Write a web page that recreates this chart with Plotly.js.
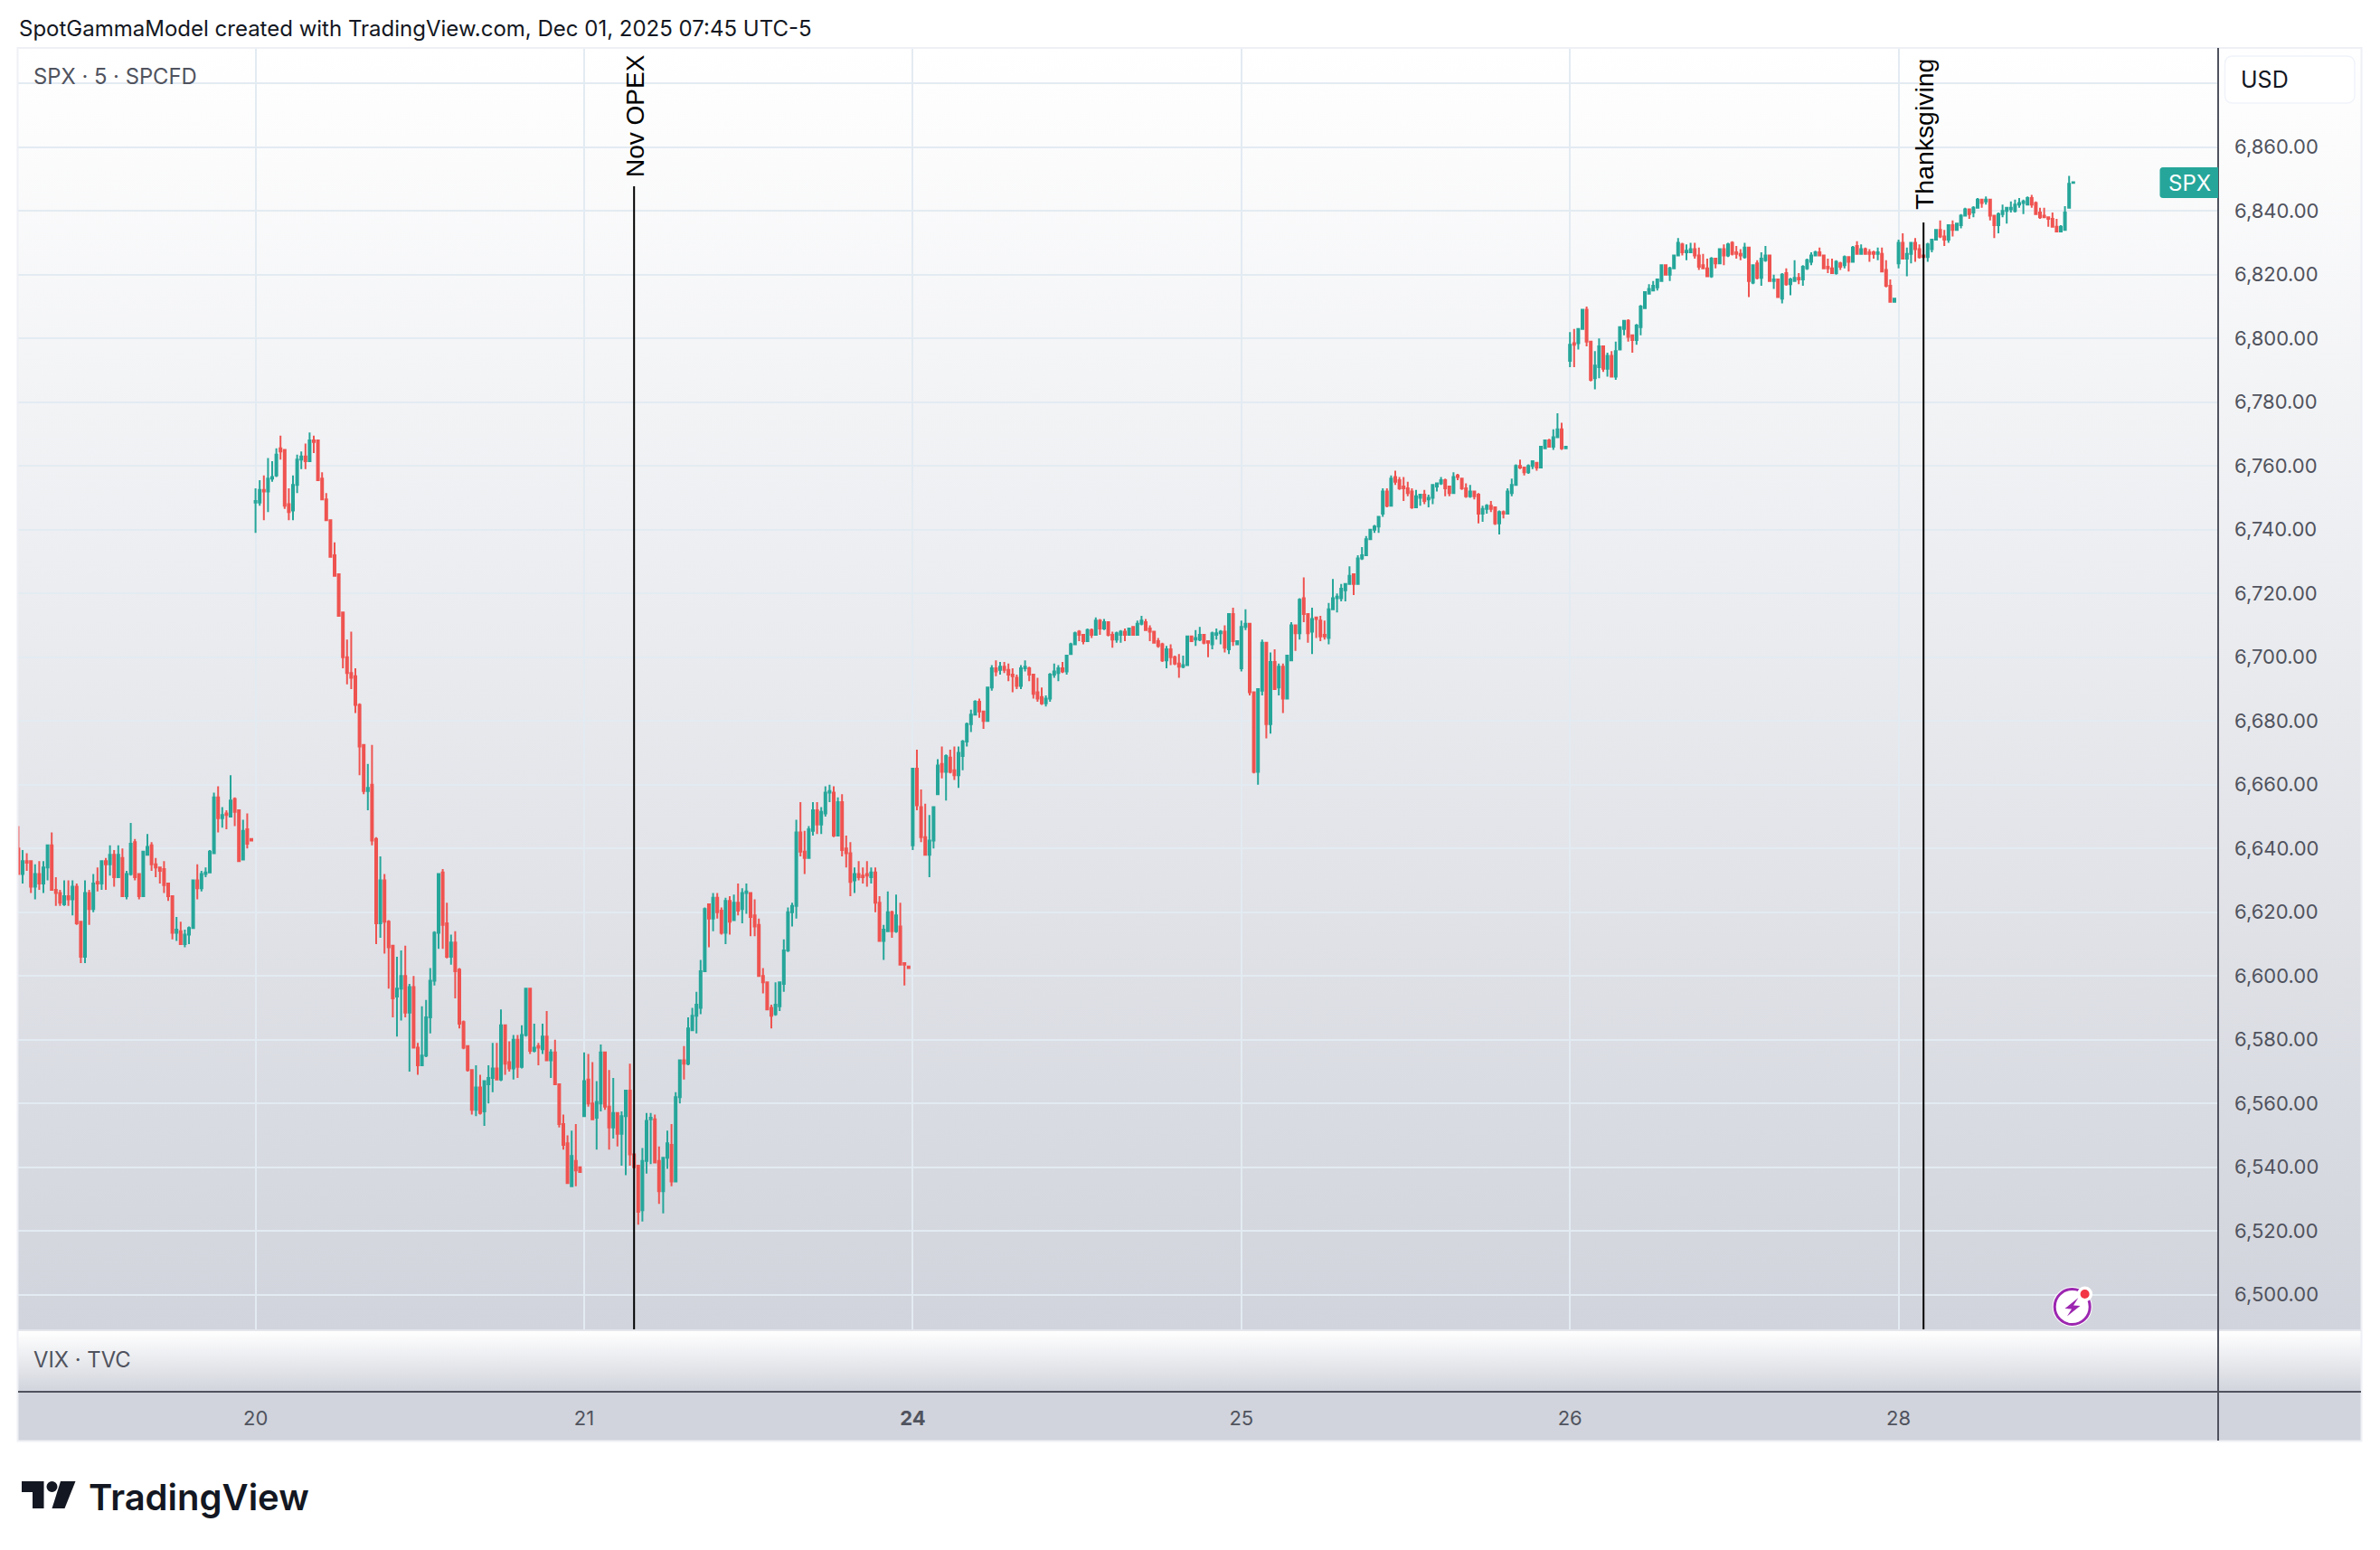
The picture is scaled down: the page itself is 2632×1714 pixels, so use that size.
<!DOCTYPE html>
<html>
<head>
<meta charset="utf-8">
<script src="https://cdn.plot.ly/plotly-3.0.1.min.js"></script>
<style>
html,body{margin:0;padding:0;background:#fff;width:2632px;height:1714px;overflow:hidden}
#wrap{position:relative;width:2632px;height:1714px}
.bg{position:absolute}
#chart{position:absolute;left:0;top:0;width:2632px;height:1714px}
</style>
</head>
<body>
<div id="wrap">
<div class="bg" style="left:20px;top:54px;width:2591px;height:1416px;background:linear-gradient(#ffffff,#d1d4dc)"></div>
<div class="bg" style="left:20px;top:1472px;width:2591px;height:67px;background:linear-gradient(#ffffff,#d1d4dc)"></div>
<div class="bg" style="left:20px;top:1539px;width:2591px;height:54px;background:#d1d4dc"></div>
<div id="chart"></div>
</div>
<script>
// rows: [open, close, high, low]
const nov19 = [
[6640,6632,6647,6632],[6632,6636,6639.5,6629],[6636,6635.5,6638.5,6633],[6636,6628,6636,6626],[6628,6632,6635,6624],[6632,6629,6636,6627],[6629,6634,6636,6626],[6634,6641,6641,6630],[6641,6627,6645,6627],[6627,6626,6631,6622],
[6626,6623,6627,6622],[6622.5,6625,6630,6622],[6625,6624,6630,6622],[6624,6628,6630,6619],[6628,6616.5,6629,6616],[6617,6606,6617,6604],[6606,6626,6630,6604],[6626,6621,6627,6616],[6621,6629,6632,6620],[6629.5,6629,6634,6626.5],
[6629,6636,6636,6627],[6636,6635,6637,6627],[6635,6638,6641,6631.5],[6638,6631,6639.5,6628],[6631,6638,6641,6631],[6637,6625,6640,6625],[6625,6632,6633,6624],[6632,6641.5,6648,6631.5],[6642,6631,6643,6630],[6632,6625,6632,6624],
[6625,6639,6639,6625],[6638,6640.5,6644.5,6638],[6641,6635,6642,6633],[6635,6634,6637,6631],[6634,6633,6634,6629],[6633.5,6628.5,6636,6626],[6629,6625,6629,6623.5],[6625,6613.5,6625,6611.5],[6613.5,6614.5,6618.5,6611],[6614,6610,6617,6610],
[6610,6613,6614.5,6609],[6613,6615,6615.5,6610],[6615,6630,6630,6615],[6630,6627.5,6635,6624],[6627.5,6632,6633,6626.5],[6632,6632.5,6634,6631],[6632.5,6639,6639.5,6632.5],[6638.5,6656,6657.5,6638.5],[6656,6649.5,6659.5,6645],[6649.5,6650.5,6653,6646.5],
[6651,6650.5,6652,6646],[6650,6655,6663,6650],[6655.5,6651.5,6656,6647],[6652,6636,6652,6636],[6636.5,6645.5,6649,6636.5],[6646,6641.5,6651,6640],[6643,6642.5,6643,6642.5]
];
const nov20 = [
[6748.5,6749,6753,6739],[6748.5,6752.5,6755.5,6747.5],[6752.5,6752,6757,6743],[6752,6756,6762.5,6745.5],[6756,6756.5,6761.5,6755],[6757,6763.5,6765.5,6756.5],[6765.5,6764.5,6769.5,6762],[6765,6747.5,6765,6746.5],[6748,6745.5,6753,6743],[6746,6754,6757,6743],
[6754,6762,6763.5,6751.5],[6762,6763,6764.5,6759],[6763,6761.5,6767,6759],[6761.5,6768,6770.5,6761.5],[6768,6767.5,6769.5,6764],[6768,6755.5,6768,6755.5],[6756,6749.5,6758,6749.5],[6749.5,6743,6751.5,6743],[6743,6731.5,6743,6731.5],[6732,6725.5,6736,6725.5],
[6726,6713,6726,6713],[6714,6700,6714,6696.5],[6700,6695,6705.5,6691.5],[6695,6693.5,6708,6690],[6694,6685,6696.5,6682.5],[6685,6672,6685.5,6663],[6672.5,6658,6672.5,6657],[6658,6659,6666.5,6652],[6660,6642.5,6672.5,6641],[6643,6616.5,6643.5,6610],
[6616.5,6630,6637.5,6612],[6630,6617,6632,6607],[6617,6609,6617.5,6596],[6609.5,6593,6609.5,6587],[6593.5,6596,6606,6581],[6596,6600,6608,6586],[6600,6588.5,6609.5,6587],[6588.5,6596.5,6597.5,6570],[6596.5,6577.5,6600,6577.5],[6577.5,6572,6579,6569],
[6572,6575,6590.5,6572],[6575,6587,6592.5,6574.5],[6587,6598.5,6602.5,6582],[6598.5,6613.5,6614,6597],[6613.5,6632,6632,6608.5],[6632.5,6616,6633.5,6608.5],[6616.5,6606,6623,6605.5],[6606,6610.5,6613,6603.5],[6610.5,6601.5,6614,6593],[6602,6585,6602.5,6583.5],
[6585.5,6577.5,6586,6577],[6578,6570.5,6578,6570],[6570.5,6558,6570.5,6556.5],[6558,6565,6572,6556],[6565,6557,6569,6556.5],[6557.5,6567,6567,6553],[6566,6568,6572,6560],[6568,6571,6579,6563.5],[6571,6567.5,6579,6567.5],[6567.5,6584.5,6589.5,6567],
[6584.5,6572.5,6584.5,6569],[6573,6571,6579.5,6570],[6571,6580,6581.5,6567.5],[6580,6571.5,6581.5,6568],[6571.5,6581.5,6584.5,6571],[6581.5,6596,6596,6581],[6596,6576.5,6596,6575.5],[6576.5,6577.5,6585,6576],[6578,6577.5,6579,6572],[6577,6581,6585,6575.5],
[6581,6573.5,6589,6573.5],[6573.5,6576,6577,6568],[6576,6566,6580,6566],[6566,6553.5,6566,6552.5],[6553.5,6547,6556.5,6545.5],[6547.5,6535,6550,6535],[6534,6543.5,6551.5,6534],[6542,6539,6553.5,6534],[6540,6538.5,6540,6538.5]
];
const nov21 = [
[6556,6567,6576,6556],[6567.5,6560,6575.5,6559],[6560,6555,6573,6555],[6555.5,6560.5,6567,6545.5],[6560,6576,6578.5,6557.5],[6576,6559,6576,6558],[6559,6552.5,6570.5,6545.5],[6552.5,6557,6568,6549],[6557,6550.5,6557,6546.5],[6550.5,6556,6557.5,6540.5],
[6556,6564,6564,6537.5],[6564,6544,6572.5,6540.5],[6544,6540,6544,6540],[6540.5,6526,6540.5,6522],[6526.5,6542,6546,6523],[6542,6554.5,6557,6538],[6555,6555.5,6557,6541],[6555,6541.5,6556.5,6541.5],[6542,6532.5,6546.5,6528.5],[6532.5,6543,6543,6525.5],
[6543,6547.5,6551.5,6539.5],[6547,6535.5,6553.5,6534],[6535.5,6562,6563.5,6535.5],[6562,6573.5,6573.5,6560],[6573.5,6572.5,6578,6567.5],[6572.5,6583.5,6587,6572],[6583,6587.5,6590,6583],[6587.5,6591,6595,6582],[6590,6601.5,6605,6588],[6601.5,6621,6621.5,6601.5],
[6622.5,6618,6622.5,6609],[6618,6624.5,6626,6614],[6624.5,6620,6626,6618],[6620.5,6613.5,6621.5,6613],[6613.5,6623.5,6624.5,6610],[6623.5,6617,6625,6613],[6617.5,6623,6625.5,6617.5],[6623,6620.5,6629,6619],[6621,6626,6627.5,6616.5],[6626,6626.5,6629,6619.5],
[6626,6618.5,6626,6612.5],[6619,6615.5,6624,6612.5],[6616,6600,6618,6600],[6600,6598,6602.5,6594.5],[6598,6589.5,6598,6589.5],[6590,6587.5,6591,6583.5],[6588,6591,6598,6587.5],[6590.5,6598,6598,6589],[6597.5,6608,6611.5,6595],[6608,6620,6621.5,6607.5],
[6620,6622,6623,6615.5],[6622,6645,6649,6618],[6645,6639,6654.5,6637.5],[6639,6637,6645.5,6632],[6637,6646,6647,6637],[6645.5,6652,6654.5,6644],[6652,6647.5,6654.5,6644.5],[6647.5,6651.5,6653,6644.5],[6651,6657.5,6659.5,6650],[6657.5,6658,6660,6654.5],
[6657.5,6644,6659.5,6643.5],[6644,6654.5,6656,6644],[6654.5,6639.5,6657,6637.5],[6640,6638.5,6644,6634],[6638.5,6629.5,6642,6625],[6630,6632,6634,6626],[6632,6631,6636,6630],[6631.5,6631,6634,6629],[6632,6631.5,6636,6628],[6631,6632.5,6634,6629],
[6632.5,6623,6634,6620],[6623,6611,6625,6611],[6611,6614.5,6616,6605],[6614,6620,6626.5,6614],[6620,6614,6620.5,6612],[6614,6619,6625.5,6613.5],[6615.5,6603.5,6623,6603.5],[6604,6603.5,6604,6597],[6603,6602.5,6603,6602.5]
];
const nov24 = [
[6641,6665,6665,6639.5],[6665,6653.5,6671,6652],[6653,6643.5,6658.5,6642],[6643.5,6638,6654,6638],[6638,6642.5,6650.5,6631],[6642.5,6653,6653,6640],[6657,6666,6668,6657],[6666.5,6664,6672,6662],[6664,6669,6669.5,6655],[6668.5,6664,6671,6663.5],
[6664.5,6663,6672,6661.5],[6663,6670,6672,6659],[6669,6673.5,6674,6664.5],[6673.5,6679,6679.5,6672],[6679,6682,6683.5,6676.5],[6682,6686,6686.5,6682],[6686,6683,6687,6681],[6683,6680,6683,6677.5],[6680,6690.5,6690.5,6680],[6690.5,6696.5,6697.5,6689.5],
[6696.5,6695.5,6699,6694],[6696,6697,6698.5,6694.5],[6697,6696,6698.5,6695],[6696,6694.5,6698,6692.5],[6694.5,6694,6696.5,6689],[6693.5,6691,6694.5,6690],[6691,6696.5,6697.5,6690],[6696.5,6697,6699,6695.5],[6696.5,6694.5,6697,6692.5],[6694.5,6688.5,6694.5,6687],
[6689,6687,6693.5,6686],[6687.5,6685.5,6690.5,6685],[6685.5,6687,6688,6684.5],[6687,6694.5,6695,6686],[6694.5,6695.5,6698,6693.5],[6695,6696.5,6697.5,6692.5],[6696.5,6695.5,6698.5,6695],[6695.5,6700.5,6700.5,6694.5],[6701,6704,6704.5,6701],[6704,6707.5,6708,6704],
[6708,6707,6708.5,6705],[6707,6705,6707,6704],[6705,6708.5,6709,6705],[6708.5,6707,6709,6706],[6707,6711.5,6712.5,6707],[6711.5,6709,6712,6707],[6709,6711,6712,6708.5],[6711,6707,6711,6706.5],[6707,6705.5,6708,6703],[6705.5,6707.5,6708,6704.5],
[6707,6708,6708.5,6704.5],[6708,6707,6709,6705],[6707,6709,6709,6707],[6709.5,6707,6709.5,6707],[6707,6710.5,6711.5,6707],[6710.5,6711.5,6713,6710],[6711,6708.5,6712,6708.5],[6709,6708,6710,6705],[6708,6704.5,6708,6704.5],[6705,6703.5,6706,6703],
[6704,6699,6704.5,6698.5],[6699,6702.5,6703.5,6696.5],[6702.5,6700,6704,6697.5],[6700,6698,6700.5,6697.5],[6698,6697,6701,6693.5],[6697,6697.5,6700.5,6696.5],[6697.5,6706.5,6706.5,6697.5],[6706.5,6705,6706.5,6705],[6705.5,6706,6708.5,6703.5],[6705.5,6707,6709.5,6705],
[6707,6704.5,6707,6704],[6705,6704.5,6705,6700],[6704,6707.5,6708,6702.5],[6707,6707.5,6709,6705.5],[6707.5,6708,6708.5,6704],[6708,6703,6710,6701.5],[6702.5,6713.5,6713.5,6701],[6713.5,6705,6715.5,6703.5],[6704,6705,6705,6704]
];
const nov25 = [
[6696.5,6709.5,6711.5,6695.5],[6709.5,6710.5,6715,6708.5],[6710.5,6689,6710.5,6688],[6689,6664,6689,6663.5],[6664,6690,6690,6660],[6689.5,6704.5,6705.5,6688],[6704.5,6679,6704.5,6674.5],[6679,6698.5,6701.5,6676],[6698.5,6690,6702.5,6690],[6690.5,6697,6698,6688],
[6697,6687,6698,6682.5],[6687,6700.5,6700.5,6687],[6699,6710,6711,6699],[6710,6707.5,6710,6702],[6707.5,6718,6718.5,6705.5],[6718.5,6713.5,6725,6711],[6713.5,6707.5,6713.5,6704.5],[6708,6712,6715.5,6701],[6712.5,6712,6712.5,6706],[6711.5,6706.5,6713,6705],
[6707,6706.5,6711.5,6705.5],[6706,6715,6717,6704],[6715,6718.5,6724.5,6715],[6718.5,6719,6720,6714],[6718.5,6721.5,6723,6717.5],[6721,6723,6723,6717.5],[6723,6725.5,6728.5,6723],[6726,6723,6726,6719.5],[6723,6731,6732,6723],[6731,6732,6734.5,6730.5],
[6732,6737,6738,6732],[6737,6740,6740,6737],[6740,6741,6741.5,6739],[6741,6744,6744,6739],[6745,6752,6753,6744],[6752,6747.5,6753,6747],[6747.5,6756,6757,6747.5],[6756.5,6755,6758.5,6754],[6755.5,6753,6756.5,6752.5],[6753.5,6753,6756.5,6749],
[6753,6751.5,6755,6750.5],[6752,6747,6753,6746.5],[6747,6750.5,6752.5,6747],[6750,6751,6751,6747.5],[6751,6749,6752.5,6748],[6749.5,6750,6751,6747],[6750,6754,6754,6748],[6753.5,6754.5,6754.5,6752],[6754.5,6755.5,6756.5,6754],[6755.5,6753,6756,6750.5],
[6753.5,6751.5,6753.5,6750.5],[6751.5,6756.5,6758,6751.5],[6757,6756.5,6757.5,6755.5],[6756,6753,6756,6752.5],[6753,6750.5,6754.5,6750],[6750.5,6752,6754,6750],[6752,6750.5,6752,6749.5],[6751,6745,6751.5,6742],[6745,6746.5,6747.5,6742.5],[6746.5,6747.5,6748,6745],
[6747.5,6746.5,6749,6745.5],[6747,6742,6747,6741.5],[6742,6745.5,6746,6738.5],[6745.5,6745,6746,6743.5],[6745,6752,6753,6745],[6751.5,6754,6756,6750.5],[6754,6760,6760.5,6754],[6760,6759.5,6762,6759],[6759.5,6758,6759.5,6757],[6758,6760,6760.5,6757.5],
[6760,6761.5,6761.5,6759],[6761,6759.5,6761,6758.5],[6759.5,6766,6766,6759.5],[6765.5,6768,6768,6765.5],[6768,6766,6768.5,6766],[6766,6769,6771.5,6765],[6769,6771.5,6776.5,6769],[6771.5,6765.5,6773.5,6765],[6765.5,6766,6766,6765.5]
];
const nov26 = [
[6793,6798,6802,6791],[6798.5,6798,6803,6791],[6798.5,6803,6803,6796.5],[6803,6809,6809,6803],[6809,6799,6810,6797.5],[6799,6787,6799,6786.5],[6787.5,6791.5,6796,6784],[6791,6797.5,6800,6787.5],[6797.5,6790.5,6797.5,6789.5],[6790.5,6794.5,6795.5,6788],
[6794.5,6788,6796,6788],[6788,6796,6799,6787],[6796.5,6803.5,6803.5,6796.5],[6803,6805.5,6805.5,6801],[6805.5,6800.5,6806,6799],[6801,6799.5,6801,6795.5],[6799.5,6804,6804.5,6798],[6803.5,6810,6810.5,6801],[6809.5,6814.5,6814.5,6809.5],[6814,6815.5,6817,6814],
[6815,6816.5,6818,6815],[6816,6818.5,6818.5,6815],[6818,6823,6823,6818],[6823,6820,6823,6820],[6820,6822,6822.5,6818],[6822,6826,6826,6822],[6826,6830,6831.5,6826],[6829.5,6827,6830,6826],[6827,6827.5,6829.5,6824.5],[6827,6828,6830,6827],
[6828,6826,6830,6825],[6826,6822.5,6828.5,6821.5],[6823,6822,6826.5,6822],[6822,6819.5,6825,6819.5],[6819.5,6825,6825.5,6819],[6825,6823.5,6825,6822],[6823.5,6828,6828,6823.5],[6828,6826,6829.5,6823],[6826,6829.5,6830,6825.5],[6830,6826.5,6830.5,6826],
[6827,6826.5,6829,6825],[6826.5,6826,6828,6824.5],[6825.5,6828.5,6830,6825],[6828.5,6818,6828.5,6813],[6817.5,6823,6823,6817],[6823.5,6819,6824.5,6818.5],[6819,6825,6827,6816.5],[6824.5,6826,6829,6824],[6826,6818,6826,6818],[6818,6818.5,6820,6815.5],
[6818.5,6813,6818.5,6813],[6812.5,6820,6820.5,6811],[6820.5,6817,6822,6816.5],[6817,6818.5,6819,6813.5],[6818,6819,6824.5,6818],[6819,6818.5,6820.5,6817],[6818.5,6822.5,6823,6816.5],[6822,6824.5,6825,6821.5],[6824,6826,6827,6823],[6826,6827,6827.5,6826],
[6827,6826,6828.5,6826],[6826,6822,6826,6822],[6822.5,6822,6825,6820.5],[6822,6820.5,6825,6820.5],[6820.5,6824,6824.5,6820],[6823.5,6822.5,6824,6821.5],[6823,6825.5,6826,6822],[6825.5,6824,6825.5,6821],[6824,6828.5,6829,6824],[6829,6826.5,6830.5,6826.5],
[6826.5,6828,6829.5,6826.5],[6828,6826.5,6828.5,6826.5],[6827,6826.5,6828,6824],[6827,6826.5,6827.5,6825],[6826.5,6827,6828.5,6824.5],[6826.5,6821,6828.5,6821],[6821.5,6816.5,6824.5,6816],[6816.5,6811.5,6818.5,6811.5],[6811.5,6812.5,6812.5,6811.5]
];
const nov28 = [
[6823.5,6830,6831,6822],[6830,6825,6833,6825],[6825,6826.5,6828.5,6819.5],[6826.5,6830,6830,6823.5],[6830,6828,6831.5,6824],[6828,6825.5,6829.5,6825],[6826,6825.5,6826,6825.5],[6825.5,6829.5,6830,6824],[6828,6831,6831,6827],[6831,6834,6834,6831],
[6834,6832,6837,6831.5],[6832,6831,6834,6829],[6831,6835.5,6835.5,6830],[6835.5,6834,6837,6832],[6834,6836,6836,6834],[6835.5,6838.5,6839,6834.5],[6838.5,6840.5,6841,6838.5],[6840.5,6839,6840.5,6837.5],[6839.5,6841,6841.5,6838],[6841,6843.5,6844,6841],
[6843.5,6842.5,6843.5,6841],[6843,6843.5,6844.5,6842],[6843.5,6838.5,6843.5,6837],[6838.5,6835.5,6838.5,6831.5],[6835.5,6839,6839.5,6833],[6839,6840,6842,6838],[6840,6841,6841,6836],[6840.5,6841,6843,6839.5],[6840,6842,6843.5,6839.5],[6842,6842.5,6844,6841],
[6842.5,6843,6843.5,6839],[6842,6844,6844.5,6842],[6844,6842,6845,6841],[6842.5,6839,6843,6839],[6839.5,6838,6841,6837.5],[6838.5,6838,6841,6838],[6838,6837.5,6838,6835],[6837.5,6835,6839.5,6835],[6835,6833.5,6837.5,6833.5],[6833.5,6835,6835.5,6833.5],
[6834,6839.5,6841.5,6834],[6841,6848.5,6851,6841],[6848.8,6849,6849.3,6848.5]
];
const sessions = [nov19, nov20, nov21, nov24, nov25, nov26, nov28];
const dayLabels = ['', '20', '21', '<b>24</b>', '25', '26', '28'];
const priceTicks = [6500,6520,6540,6560,6580,6600,6620,6640,6660,6680,6700,6720,6740,6760,6780,6800,6820,6840,6860,6880];
const priceTickText = ['6,500.00','6,520.00','6,540.00','6,560.00','6,580.00','6,600.00','6,620.00','6,640.00','6,660.00','6,680.00','6,700.00','6,720.00','6,740.00','6,760.00','6,780.00','6,800.00','6,820.00','6,840.00','6,860.00',''];
const eventLabels = ['Nov OPEX', 'Thanksgiving'];
const eventBars = [148, 458];
const eventTops = [6847.7, 6836.4];

const bars = sessions.flat();
const idx = bars.map((_, i) => i);
let start = 0; const dayStart = [];
sessions.forEach(s => { dayStart.push(start); start += s.length; });

const W = 2632, H = 1714;
const PX = x => x / W, PY = y => 1 - y / H;
const L = 20, R = 2453, T = 54, B = 1470, barPx = 4.6;
const x0 = 57 - (282.6 - L) / barPx, x1 = x0 + (R - L) / barPx;
const yAt = y => 6860 - (y - 162.7) / 3.525;

const trace = {
  type: 'candlestick', x: idx,
  open: bars.map(b => b[0]), close: bars.map(b => b[1]),
  high: bars.map(b => b[2]), low: bars.map(b => b[3]),
  increasing: {line: {color: '#26a69a', width: 2}, fillcolor: '#26a69a'},
  decreasing: {line: {color: '#ef5350', width: 2}, fillcolor: '#ef5350'},
  whiskerwidth: 0, hoverinfo: 'skip', showlegend: false
};

const px = (x, y) => PX(x).toFixed(5) + ',' + PY(y).toFixed(5);
const pth = (pts, close) => 'M' + pts.map(p => px(p[0], p[1])).join('L') + (close ? 'Z' : '');
const paperShape = o => Object.assign({xref: 'paper', yref: 'paper', layer: 'above'}, o);
const pline = (a, b, c, d, color, w) => paperShape({type: 'line', x0: PX(a), y0: PY(b), x1: PX(c), y1: PY(d), line: {color, width: w}});
const circ = (cx, cy, r, fill, lc, lw) => paperShape({type: 'circle', x0: PX(cx - r), x1: PX(cx + r), y0: PY(cy + r), y1: PY(cy - r), fillcolor: fill, line: {color: lc, width: lw}});
const q2 = (x, y) => PX(x).toFixed(5) + ' ' + PY(y).toFixed(5);
const roundRectPath = (a, b, c, d, r) => `M${q2(a + r, b)}L${q2(c - r, b)}Q${q2(c, b)} ${q2(c, b + r)}L${q2(c, d - r)}Q${q2(c, d)} ${q2(c - r, d)}L${q2(a + r, d)}Q${q2(a, d)} ${q2(a, d - r)}L${q2(a, b + r)}Q${q2(a, b)} ${q2(a + r, b)}Z`;

const shapes = [
  // frame and panes
  paperShape({type: 'rect', x0: PX(19.5), x1: PX(2611.5), y0: PY(1593.5), y1: PY(53), line: {color: '#eef0f5', width: 2}, fillcolor: 'rgba(0,0,0,0)'}),
  pline(20, 1471, 2611, 1471, '#e4e6ec', 2),
  pline(R, 53, R, 1593, '#50535e', 2),
  pline(20, 1539, 2611, 1539, '#50535e', 2),
  // event lines
  {type: 'line', xref: 'x', yref: 'y', x0: eventBars[0], x1: eventBars[0], y0: yAt(B), y1: eventTops[0], line: {color: '#000', width: 2}, layer: 'above'},
  {type: 'line', xref: 'x', yref: 'y', x0: eventBars[1], x1: eventBars[1], y0: yAt(B), y1: eventTops[1], line: {color: '#000', width: 2}, layer: 'above'},
  // USD button
  paperShape({type: 'path', path: roundRectPath(2460.5, 62, 2604, 114, 9), fillcolor: '#ffffff', line: {color: '#f0f3fa', width: 1.5}}),
  // SPX label
  paperShape({type: 'path', path: `M${q2(2453, 185)}L${q2(2392, 185)}Q${q2(2388.5, 185)} ${q2(2388.5, 188.5)}L${q2(2388.5, 215.5)}Q${q2(2388.5, 219)} ${q2(2392, 219)}L${q2(2453, 219)}Z`, fillcolor: '#26a69a', line: {width: 0}}),
  // TradingView logo
  paperShape({type: 'path', path: pth([[24, 1638], [48.5, 1638], [48.5, 1668], [36, 1668], [36, 1650], [24, 1650]], true), fillcolor: '#131722', line: {width: 0}}),
  circ(57.5, 1644, 6, '#131722', '#131722', 0),
  paperShape({type: 'path', path: pth([[67, 1638], [83.5, 1638], [71.5, 1668], [57.5, 1668]], true), fillcolor: '#131722', line: {width: 0}}),
  // lightning badge
  circ(2291.7, 1445, 22, '#ffffff', '#ffffff', 0),
  circ(2291.7, 1445, 19.5, '#ffffff', '#9c27b0', 3),
  paperShape({type: 'path', path: pth([[2298.5, 1435], [2283.5, 1447], [2291, 1447.5], [2286, 1455.5], [2300.5, 1444], [2293, 1443.5]], true), fillcolor: '#9c27b0', line: {width: 0}}),
  circ(2305.6, 1431, 8.5, '#ffffff', '#ffffff', 0),
  circ(2305.6, 1431, 5, '#f23645', '#f23645', 0)
];

const txt = (x, y, text, size, color, extra) => Object.assign({
  xref: 'paper', yref: 'paper', x: PX(x), y: PY(y), text, showarrow: false,
  xanchor: 'left', yanchor: 'middle', borderpad: 0,
  font: {family: 'Inter, sans-serif', size, color}
}, extra || {});

const annotations = [
  txt(20, 32, 'SpotGammaModel created with TradingView.com, Dec 01, 2025 07:45 UTC-5', 24, '#131722'),
  txt(36, 85, 'SPX · 5 · SPCFD', 23.8, '#50535e'),
  txt(36, 1503, 'VIX · TVC', 23.8, '#50535e'),
  txt(2477, 88, 'USD', 25, '#131722'),
  txt(2421, 202, 'SPX', 24, '#ffffff', {xanchor: 'center'}),
  txt(703, 128, eventLabels[0], 28, '#000', {xanchor: 'center', textangle: -90, font: {family: 'Liberation Sans, Arial, sans-serif', size: 28, color: '#000'}}),
  txt(2128, 149, eventLabels[1], 28.4, '#000', {xanchor: 'center', textangle: -90, font: {family: 'Liberation Sans, Arial, sans-serif', size: 28.4, color: '#000'}}),
  txt(97, 1655, 'TradingView', 40, '#131722', {font: {family: 'Inter, sans-serif', size: 40, color: '#131722', weight: 600}})
];

const layout = {
  width: W, height: H, margin: {l: 0, r: 0, t: 0, b: 0, pad: 0},
  paper_bgcolor: 'rgba(0,0,0,0)', plot_bgcolor: 'rgba(0,0,0,0)',
  showlegend: false, boxgap: 0.565, boxgroupgap: 0,
  xaxis: {
    domain: [PX(L), PX(R)], range: [x0, x1], rangeslider: {visible: false},
    tickmode: 'array', tickvals: dayStart.slice(1), ticktext: dayLabels.slice(1),
    showgrid: true, gridcolor: '#e3ebf2', gridwidth: 2, zeroline: false, showline: false,
    ticks: '', ticklabelstandoff: 83,
    tickfont: {family: 'Inter, sans-serif', size: 22, color: '#50535e'}
  },
  yaxis: {
    domain: [PY(B), PY(T)], range: [yAt(B), yAt(T)], side: 'right',
    tickmode: 'array', tickvals: priceTicks, ticktext: priceTickText,
    showgrid: true, gridcolor: '#e3ebf2', gridwidth: 2, zeroline: false, showline: false,
    ticks: '', ticklabelstandoff: 17,
    tickfont: {family: 'Inter, sans-serif', size: 22, color: '#50535e'}
  },
  shapes, annotations, hovermode: false
};
Plotly.newPlot('chart', [trace], layout, {displayModeBar: false, staticPlot: true, responsive: false});
</script>
</body>
</html>
